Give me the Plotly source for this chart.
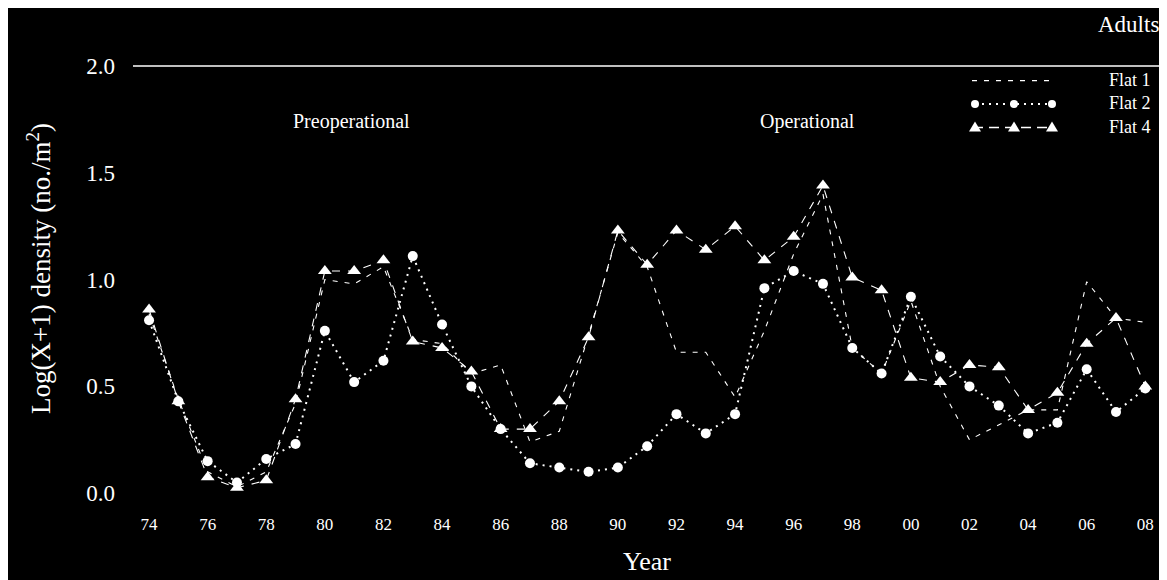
import plotly.graph_objects as go

# ---------------- data ----------------
years = list(range(1974, 2009))

flat1 = [0.84, 0.44, 0.10, 0.03, 0.10, 0.42, 1.00, 0.98, 1.06, 0.72,
         0.70, 0.56, 0.60, 0.24, 0.29, 0.74, 1.22, 1.06, 0.66, 0.66,
         0.45, 0.76, 1.12, 1.40, 0.68, 0.56, 0.90, 0.50, 0.25, 0.32,
         0.39, 0.39, 0.99, 0.82, 0.80]

flat2 = [0.81, 0.43, 0.15, 0.05, 0.16, 0.23, 0.76, 0.52, 0.62, 1.11,
         0.79, 0.50, 0.30, 0.14, 0.12, 0.10, 0.12, 0.22, 0.37, 0.28,
         0.37, 0.96, 1.04, 0.98, 0.68, 0.56, 0.92, 0.64, 0.50, 0.41,
         0.28, 0.33, 0.58, 0.38, 0.49]

flat4 = [0.86, 0.43, 0.075, 0.025, 0.06, 0.44, 1.04, 1.04, 1.09, 0.71,
         0.68, 0.57, 0.30, 0.30, 0.43, 0.73, 1.23, 1.07, 1.23, 1.14,
         1.25, 1.09, 1.20, 1.44, 1.01, 0.95, 0.54, 0.52, 0.60, 0.59,
         0.39, 0.47, 0.70, 0.82, 0.50]

series_names = ["Flat 1", "Flat 2", "Flat 4"]

x_tickvals = list(range(1974, 2009, 2))
x_ticktext = ["74", "76", "78", "80", "82", "84", "86", "88", "90",
              "92", "94", "96", "98", "00", "02", "04", "06", "08"]
y_tickvals = [0.0, 0.5, 1.0, 1.5, 2.0]
y_ticktext = ["0.0", "0.5", "1.0", "1.5", "2.0"]

# ---------------- layout geometry ----------------
# page has an 8px body margin; helpers take screen pixel positions
OFF = 8
W, H = 1159, 572
L, R, T, B = 122, 5, 58, 74
PW, PH = W - L - R, H - T - B


def px(xs):
    return (xs - OFF - L) / PW


def py(ys):
    return (H - B - (ys - OFF)) / PH


FONT = "Liberation Serif"
WHITE = "white"

fig = go.Figure()

fig.add_trace(go.Scatter(
    x=years, y=flat1, name=series_names[0], mode="lines",
    line=dict(color=WHITE, width=1.1, dash="5px,7px"),
))
fig.add_trace(go.Scatter(
    x=years, y=flat2, name=series_names[1], mode="lines+markers",
    line=dict(color=WHITE, width=2, dash="2px,5px"),
    marker=dict(symbol="circle", size=10, color=WHITE),
))
fig.add_trace(go.Scatter(
    x=years, y=flat4, name=series_names[2], mode="lines+markers",
    line=dict(color=WHITE, width=1.1, dash="8px,8px"),
    marker=dict(symbol="triangle-up", size=12, color=WHITE),
))

fig.update_layout(
    width=W, height=H,
    margin=dict(l=L, r=R, t=T, b=B, pad=0),
    paper_bgcolor="black", plot_bgcolor="black",
    font=dict(family=FONT, color=WHITE),
    showlegend=False,
    xaxis=dict(
        range=[1973.35, 2008.57], tickmode="array",
        tickvals=x_tickvals, ticktext=x_ticktext,
        showgrid=False, zeroline=False, showline=False, ticks="",
        tickfont=dict(size=17, family=FONT, color=WHITE),
        ticklabelstandoff=6,
    ),
    yaxis=dict(
        range=[-0.06, 2.0], tickmode="array",
        tickvals=y_tickvals, ticktext=y_ticktext,
        showgrid=False, zeroline=False, showline=False, ticks="",
        tickfont=dict(size=23, family=FONT, color=WHITE),
        ticklabelstandoff=14,
    ),
)

# ---------------- frame lines ----------------
shapes = [
    dict(type="line", xref="paper", yref="paper", x0=px(133), x1=1, y0=1, y1=1,
         line=dict(color=WHITE, width=1.5)),
    dict(type="line", xref="paper", yref="paper", x0=1, x1=1, y0=1, y1=py(310),
         line=dict(color=WHITE, width=1.5)),
]

# ---------------- custom legend (glyphs) ----------------
LEG_FONT = 18
LEG_GAP = LEG_FONT * 1.3
LEG_MID = 104
LEG_Y = [LEG_MID - LEG_GAP, LEG_MID, LEG_MID + LEG_GAP]
LEG_X = [975, 1014, 1052]
# Flat 1 : dashed line
shapes.append(dict(type="line", xref="paper", yref="paper",
                   x0=px(972), x1=px(1055), y0=py(LEG_Y[0]), y1=py(LEG_Y[0]),
                   line=dict(color=WHITE, width=1.1, dash="5px,7px")))
# Flat 2 : dotted line + circles
shapes.append(dict(type="line", xref="paper", yref="paper",
                   x0=px(975), x1=px(1052), y0=py(LEG_Y[1]), y1=py(LEG_Y[1]),
                   line=dict(color=WHITE, width=2, dash="2px,5px")))
for xs in LEG_X:
    shapes.append(dict(type="circle", xref="paper", yref="paper",
                       xsizemode="pixel", ysizemode="pixel",
                       xanchor=px(xs), yanchor=py(LEG_Y[1]),
                       x0=-4, x1=4, y0=-4, y1=4,
                       fillcolor=WHITE, line=dict(width=0)))
# Flat 4 : dashed line + triangles
shapes.append(dict(type="line", xref="paper", yref="paper",
                   x0=px(973), x1=px(1054), y0=py(LEG_Y[2]), y1=py(LEG_Y[2]),
                   line=dict(color=WHITE, width=1.5, dash="10px,6px")))
for xs in LEG_X:
    shapes.append(dict(type="path", xref="paper", yref="paper",
                       xsizemode="pixel", ysizemode="pixel",
                       xanchor=px(xs), yanchor=py(LEG_Y[2]),
                       path="M -6 -4 L 6 -4 L 0 6 Z",
                       fillcolor=WHITE, line=dict(width=0)))
fig.update_layout(shapes=shapes)

# ---------------- texts ----------------
annotations = [
    dict(text="Preoperational", x=px(351), y=py(121), xanchor="center", yanchor="middle",
         font=dict(size=20, family=FONT, color=WHITE)),
    dict(text="Operational", x=px(807), y=py(121), xanchor="center", yanchor="middle",
         font=dict(size=20, family=FONT, color=WHITE)),
    dict(text="Adults", x=px(1161), y=py(24), xanchor="right", yanchor="middle",
         font=dict(size=23, family=FONT, color=WHITE)),
    dict(text="Year", x=px(647), y=py(561), xanchor="center", yanchor="middle",
         font=dict(size=26, family=FONT, color=WHITE)),
    dict(text="Log(X+1) density (no./m<sup>2</sup>)", x=px(39), y=py(269),
         xanchor="center", yanchor="middle", textangle=-90,
         font=dict(size=27, family=FONT, color=WHITE)),
    # legend labels as one right-aligned block
    dict(text="<br>".join(series_names), x=px(1153), y=py(LEG_MID), xanchor="right",
         yanchor="middle", align="right",
         font=dict(size=LEG_FONT, family=FONT, color=WHITE)),
]
for a in annotations:
    a.update(xref="paper", yref="paper", showarrow=False)
fig.update_layout(annotations=annotations)

fig.write_html("out.html")
